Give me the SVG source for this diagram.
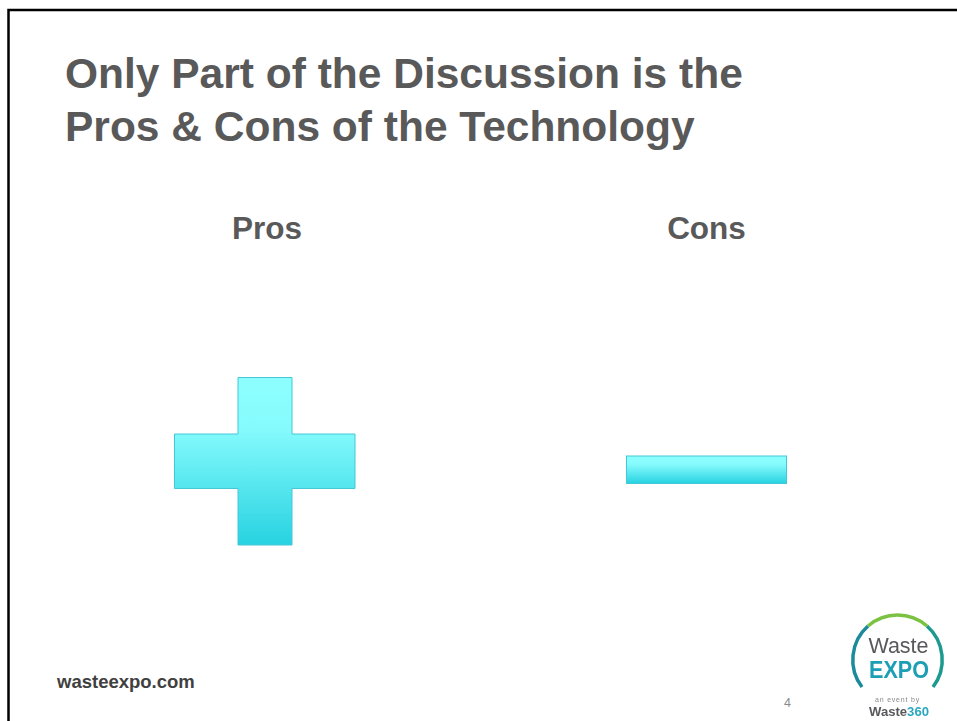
<svg xmlns="http://www.w3.org/2000/svg" width="957" height="721" viewBox="0 0 957 721">
<style>
.t{font-family:"Liberation Sans",Arial,sans-serif;font-weight:700;fill:#595959}
.h{font-size:42.500px}
.s{font-size:31.500px;text-anchor:middle}
.shape{stroke:#45c8d6;stroke-width:1}
.l{font-family:"Liberation Sans",Arial,sans-serif;text-anchor:middle}
</style>
<defs>
<linearGradient id="g" x1="0" y1="0" x2="0" y2="1">
<stop offset="0" stop-color="#8dffff"/><stop offset="0.3" stop-color="#86fbfd"/><stop offset="1" stop-color="#27d2e1"/>
</linearGradient>
<filter id="soft" x="-5%" y="-5%" width="110%" height="110%"><feGaussianBlur stdDeviation="0.4"/></filter>
</defs>
<rect width="957" height="721" fill="#fff"/>
<path d="M8.500 721V10H957" fill="none" stroke="#000" stroke-width="2.500"/>
<text class="t h" x="65" y="88">Only Part of the Discussion is the</text>
<text class="t h" x="65" y="141">Pros &amp; Cons of the Technology</text>
<g id="pros"><text class="t s" x="267" y="239">Pros</text>
<path class="shape" fill="url(#g)" d="M238 377.500H292V434H355V488.500H292V545H238V488.500H174.500V434H238Z"/></g>
<g id="cons"><text class="t s" x="706.500" y="239">Cons</text>
<rect class="shape" fill="url(#g)" x="626.500" y="456" width="160" height="27.500"/></g>
<text id="footer" class="t" x="57" y="688" font-size="18.500" style="fill:#404040">wasteexpo.com</text>
<text id="page" x="787.500" y="707" font-family="Liberation Sans,Arial,sans-serif" font-size="12.500" fill="#8a8a8a" text-anchor="middle">4</text>
<g id="logo" filter="url(#soft)">
<path d="M862 687A45 45 0 0 1 868 626" fill="none" stroke="#1a8a9a" stroke-width="3.500"/>
<path d="M933 687A45 45 0 0 0 927 626" fill="none" stroke="#1c9a90" stroke-width="3.500"/>
<path d="M868 626A45 45 0 0 1 927 626" fill="none" stroke="#7cc242" stroke-width="3.500"/>
<text class="l" x="898.500" y="653" font-size="21.500" fill="#58595b">Waste</text>
<text class="l" x="899" y="678" font-size="24" font-weight="700" fill="#1b9fb5" textLength="60" lengthAdjust="spacingAndGlyphs">EXPO</text>
<text class="l" x="897.500" y="702" font-size="7" fill="#8a8a8a" letter-spacing=".8">an event by</text>
<text class="l" x="899" y="716" font-size="13" font-weight="700" fill="#58595b" textLength="60" lengthAdjust="spacingAndGlyphs">Waste<tspan fill="#2aa7c0">360</tspan></text>
</g>
</svg>
